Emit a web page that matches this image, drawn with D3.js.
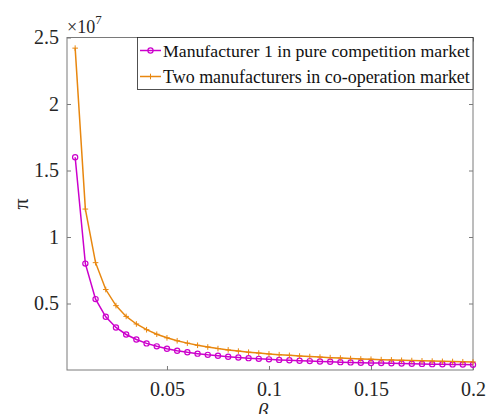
<!DOCTYPE html>
<html><head><meta charset="utf-8">
<script src="https://cdn.jsdelivr.net/npm/d3@7"></script>
<style>body{margin:0;background:#fff}svg{display:block}
svg text{font-family:"Liberation Serif","Times New Roman",Tinos,serif !important;}</style>
</head><body>
<svg id="c" width="488" height="414"></svg>
<script>
const beta = [0.005,0.01,0.015,0.02,0.025,0.03,0.035,0.04,0.045,0.05,0.055,0.06,0.065,0.07,0.075,0.08,0.085,0.09,0.095,0.1,0.105,0.11,0.115,0.12,0.125,0.13,0.135,0.14,0.145,0.15,0.155,0.16,0.165,0.17,0.175,0.18,0.185,0.19,0.195,0.2];
const competition = [16.0e6,8.0e6,5.33e6,4.0e6,3.2e6,2.67e6,2.29e6,2.0e6,1.78e6,1.6e6,1.45e6,1.33e6,1.23e6,1.14e6,1.07e6,1.0e6,0.94e6,0.89e6,0.84e6,0.8e6,0.76e6,0.73e6,0.70e6,0.67e6,0.64e6,0.62e6,0.59e6,0.57e6,0.55e6,0.53e6,0.52e6,0.5e6,0.48e6,0.47e6,0.46e6,0.44e6,0.43e6,0.42e6,0.41e6,0.40e6];
const cooperation = [24.2e6,12.1e6,8.07e6,6.05e6,4.84e6,4.03e6,3.46e6,3.03e6,2.69e6,2.42e6,2.2e6,2.02e6,1.86e6,1.73e6,1.61e6,1.51e6,1.42e6,1.34e6,1.27e6,1.21e6,1.15e6,1.1e6,1.05e6,1.01e6,0.97e6,0.93e6,0.9e6,0.86e6,0.83e6,0.81e6,0.78e6,0.76e6,0.73e6,0.71e6,0.69e6,0.67e6,0.65e6,0.64e6,0.62e6,0.605e6];
const xTicks = [0.05,0.1,0.15,0.2];
const yTicks = [0.5e7,1e7,1.5e7,2e7,2.5e7];
const seriesNames = ["Manufacturer 1 in pure competition market","Two manufacturers in co-operation market"];
const colors = ["#cc00cc","#e8870f"];

const svg = d3.select("#c");
const L=67, R=473, T=37.5, B=370;
const x = d3.scaleLinear().domain([0.001,0.2]).range([L,R]);
const y = d3.scaleLinear().domain([0,2.5e7]).range([B,T]);
const axisColor = "#7a7a7a";

svg.append("rect").attr("x",L).attr("y",T).attr("width",R-L).attr("height",B-T)
  .attr("fill","none").attr("stroke",axisColor).attr("stroke-width",1);

const xa = svg.append("g").attr("transform",`translate(0,${B})`)
  .call(d3.axisBottom(x).tickValues(xTicks).tickSize(-4).tickPadding(12).tickFormat(d=>String(d)));
const ya = svg.append("g").attr("transform",`translate(${L},0)`)
  .call(d3.axisLeft(y).tickValues(yTicks).tickSize(-4).tickPadding(8).tickFormat(d=>String(d/1e7)));
const yr = svg.append("g").attr("transform",`translate(${R},0)`)
  .call(d3.axisRight(y).tickValues(yTicks).tickSize(-4).tickFormat(""));
const xt = svg.append("g").attr("transform",`translate(0,${T})`)
  .call(d3.axisTop(x).tickValues(xTicks).tickSize(-4).tickFormat(""));
[xa,ya,yr,xt].forEach(g=>{
  g.select(".domain").remove();
  g.selectAll(".tick line").attr("stroke",axisColor);
  g.selectAll("text").attr("font-size",20).attr("fill","#262626");
});

svg.append("text").attr("x",L).attr("y",T-5).attr("font-size",18).attr("fill","#262626")
  .text("\u00d710").append("tspan").attr("dy",-9).attr("font-size",13).text("7");

svg.append("text").attr("transform",`translate(20,204) rotate(-90)`).attr("text-anchor","middle")
  .attr("dominant-baseline","central").attr("font-size",22).attr("fill","#262626").text("\u03c0");
svg.append("text").attr("x",263).attr("y",418).attr("text-anchor","middle")
  .attr("font-size",21).attr("font-style","italic").attr("fill","#262626").text("\u03b2");

const data = [competition,cooperation];
const line = d3.line().x((d,i)=>x(beta[i])).y(d=>y(d));
data.forEach((s,k)=>{
  svg.append("path").datum(s).attr("d",line).attr("fill","none").attr("stroke",colors[k]).attr("stroke-width",1.5);
});
svg.selectAll(".m0").data(competition).join("circle").attr("class","m0")
  .attr("cx",(d,i)=>x(beta[i])).attr("cy",d=>y(d)).attr("r",2.6)
  .attr("fill","none").attr("stroke",colors[0]).attr("stroke-width",1.2);
svg.selectAll(".m1").data(cooperation).join("path").attr("class","m1")
  .attr("transform",(d,i)=>`translate(${x(beta[i])},${y(d)})`)
  .attr("d","M-2.8,0H2.8M0,-2.8V2.8").attr("stroke",colors[1]).attr("stroke-width",1);

const lg = svg.append("g");
lg.append("rect").attr("x",137.5).attr("y",T).attr("width",R-137.5).attr("height",52)
  .attr("fill","#fff").attr("stroke","#262626").attr("stroke-width",0.8);
const rows=[50.5,76.5];
seriesNames.forEach((n,k)=>{
  lg.append("line").attr("x1",140).attr("x2",161).attr("y1",rows[k]).attr("y2",rows[k])
    .attr("stroke",colors[k]).attr("stroke-width",1.5);
  if(k===0) lg.append("circle").attr("cx",150.5).attr("cy",rows[k]).attr("r",2.6).attr("fill","none").attr("stroke",colors[k]).attr("stroke-width",1.2);
  else lg.append("path").attr("transform",`translate(150.5,${rows[k]})`).attr("d","M-2.8,0H2.8M0,-2.8V2.8").attr("stroke",colors[k]).attr("stroke-width",1);
  const t = lg.append("text").attr("x",163).attr("y",rows[k]).attr("dy","0.35em")
    .attr("font-size",17).attr("fill","#111").text(n);
  const w=t.node().getComputedTextLength(); if(w>0) t.attr("font-size",17*307/w);
});
</script>
</body></html>
